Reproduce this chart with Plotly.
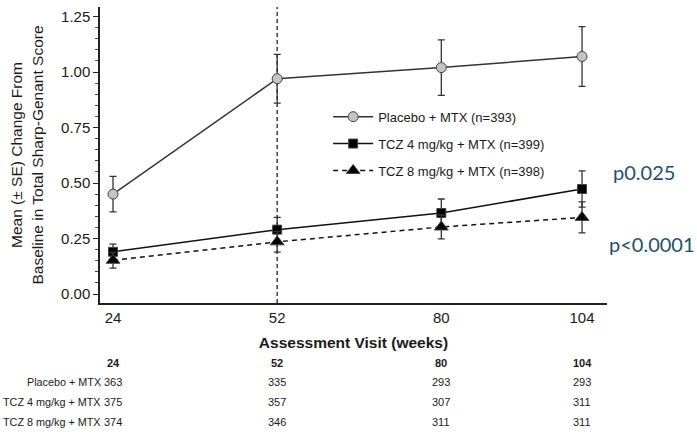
import plotly.graph_objects as go

weeks = [24, 52, 80, 104]

series_names = ["Placebo + MTX (n=393)", "TCZ 4 mg/kg + MTX (n=399)", "TCZ 8 mg/kg + MTX (n=398)"]
placebo_mean = [0.45, 0.97, 1.02, 1.07]
placebo_se = [0.08, 0.11, 0.125, 0.135]
tcz4_mean = [0.19, 0.29, 0.365, 0.473]
tcz4_se = [0.035, 0.055, 0.063, 0.082]
tcz8_mean = [0.152, 0.235, 0.302, 0.345]
tcz8_se = [0.035, 0.046, 0.054, 0.07]

table_rows = ["Placebo + MTX", "TCZ 4 mg/kg + MTX", "TCZ 8 mg/kg + MTX"]
table_values = [
    [363, 335, 293, 293],
    [375, 357, 307, 311],
    [374, 346, 311, 311],
]
pvalues = ["p0.025", "p<0.0001"]

INK = "#1a1a1a"
FONT = "Liberation Sans, Arial, sans-serif"

fig = go.Figure()

styles = [
    dict(mean=placebo_mean, se=placebo_se, symbol="circle", size=10, fill="#c4c4c4", dash="solid", lc="#333333"),
    dict(mean=tcz4_mean, se=tcz4_se, symbol="square", size=9, fill="#000000", dash="solid", lc="#111111"),
    dict(mean=tcz8_mean, se=tcz8_se, symbol="triangle-up", size=12, fill="#000000", dash="5px,4px", lc="#111111"),
]
for name, st in zip(series_names, styles):
    fig.add_trace(go.Scatter(
        x=weeks, y=st["mean"], name=name, mode="lines+markers",
        line=dict(color=st["lc"], width=1.5, dash=st["dash"]),
        marker=dict(symbol=st["symbol"], size=st["size"], color=st["fill"],
                    line=dict(color="#444444", width=1)),
        error_y=dict(type="data", array=st["se"], visible=True, color="#333333", thickness=1.3, width=3.5),
        legendgroup=name,
    ))

# vertical dashed reference line at week 52
fig.add_shape(type="line", xref="x", yref="paper", x0=weeks[1], x1=weeks[1], y0=0, y1=1,
              line=dict(color="#222222", width=1.3, dash="4px,3px"), layer="below")

# at-risk table
header_y = -0.203
row_y = [-0.267, -0.334, -0.402]
for wk in weeks:
    fig.add_annotation(x=wk, y=header_y, xref="x", yref="paper", text=f"<b>{wk}</b>",
                       showarrow=False, font=dict(family=FONT, size=11, color=INK), yanchor="middle")
for label, vals, yy in zip(table_rows, table_values, row_y):
    fig.add_annotation(x=0.006, y=yy, xref="paper", yref="paper", text=label, xanchor="right",
                       showarrow=False, font=dict(family=FONT, size=10.8, color=INK), yanchor="middle")
    for wk, v in zip(weeks, vals):
        fig.add_annotation(x=wk, y=yy, xref="x", yref="paper", text=str(v),
                           showarrow=False, font=dict(family=FONT, size=11, color=INK), yanchor="middle")

# p-values
fig.add_annotation(xref="paper", yref="y", x=1.073, y=0.55, text=pvalues[0], showarrow=False,
                   xanchor="center", yanchor="middle",
                   font=dict(family="Lato, Open Sans, sans-serif", size=20, color="#1f4f6e"))
fig.add_annotation(xref="paper", yref="y", x=1.089, y=0.225, text=pvalues[1], showarrow=False,
                   xanchor="center", yanchor="middle",
                   font=dict(family="Lato, Open Sans, sans-serif", size=20, color="#1f4f6e"))

fig.update_layout(
    width=697, height=432,
    margin=dict(l=100, r=90, t=7, b=129),
    paper_bgcolor="white", plot_bgcolor="white",
    font=dict(family=FONT, color=INK),
    showlegend=True,
    legend=dict(x=0.45, y=0.68, xanchor="left", yanchor="top", bgcolor="rgba(0,0,0,0)",
                font=dict(family=FONT, size=13, color=INK), tracegroupgap=7, itemwidth=40),
    xaxis=dict(range=[21.78, 108.26], tickvals=weeks, ticktext=[str(w) for w in weeks],
               showgrid=False, zeroline=False, showline=True, linecolor="#222222", linewidth=1.5,
               ticks="", tickfont=dict(size=15, family=FONT, color=INK),
               title=dict(text="<b>Assessment Visit (weeks)</b>", font=dict(size=15.5, family=FONT, color=INK), standoff=12)),
    yaxis=dict(range=[-0.0405, 1.293], tickvals=[0, 0.25, 0.5, 0.75, 1.0, 1.25],
               ticktext=["0.00", "0.25", "0.50", "0.75", "1.00", "1.25"],
               showgrid=False, zeroline=False, showline=True, linecolor="#222222", linewidth=1.5,
               ticks="outside", ticklen=5, tickwidth=1.3, tickcolor="#222222",
               minor=dict(dtick=0.05, ticks="outside", ticklen=3, tickwidth=1, tickcolor="#444444", tick0=0),
               tickfont=dict(size=15, family=FONT, color=INK),
               title=dict(text="Mean (± SE) Change From<br>Baseline in Total Sharp-Genant Score",
                          font=dict(size=15.5, family=FONT, color=INK), standoff=14)),
)

fig.write_html("out.html")
